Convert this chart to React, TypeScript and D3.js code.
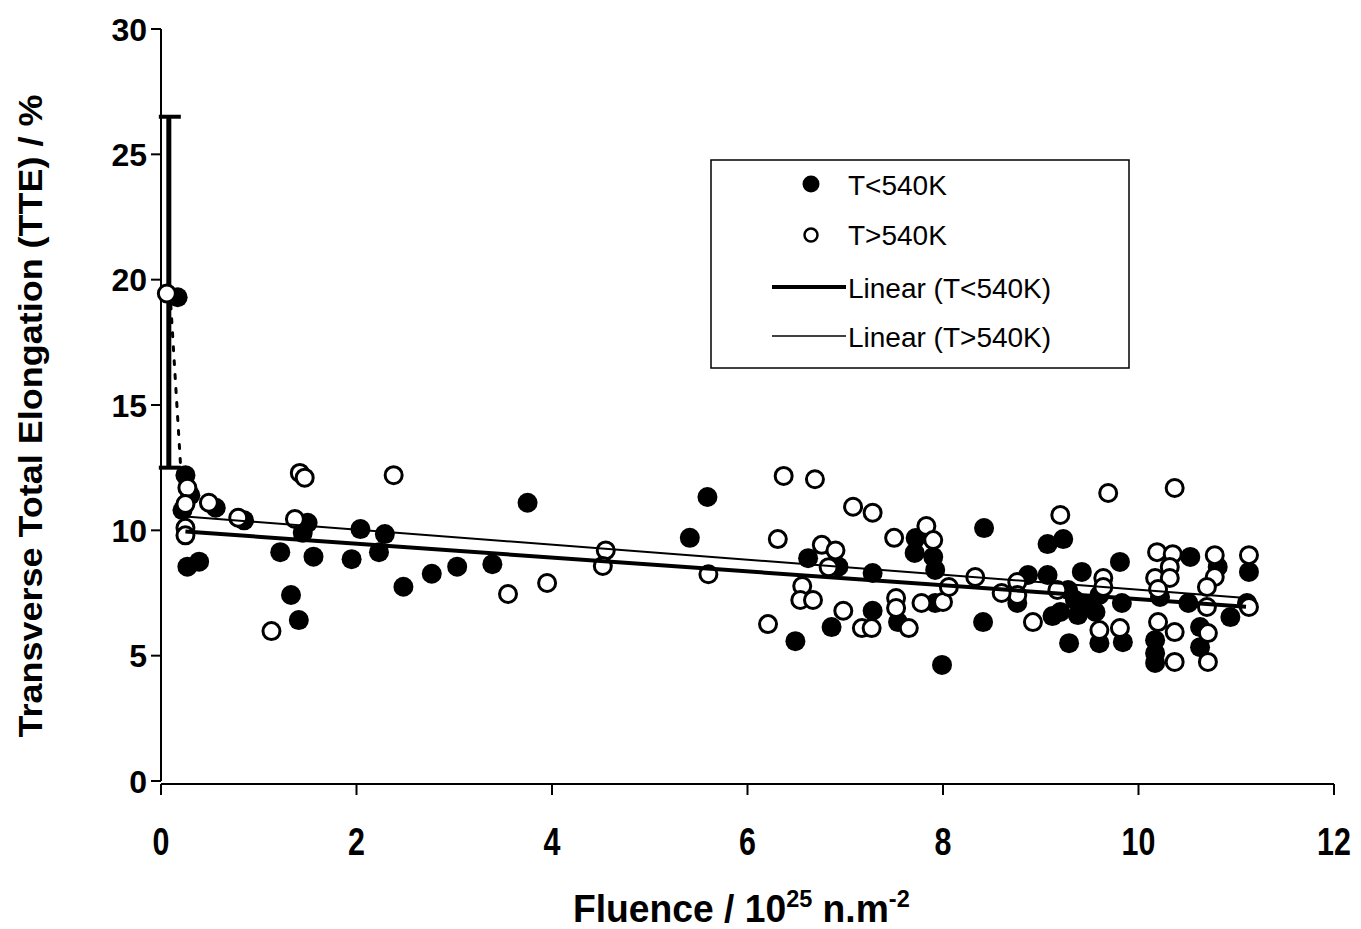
import React from "react";
import * as d3 from "d3";

// fluence (10^25 n/m2), TTE (%)
const lowTPoints: [number, number][] = [
  [0.17, 19.3], [0.25, 12.2], [0.3, 11.4], [0.22, 10.8], [0.56, 10.9], [0.85, 10.4], [0.27, 8.55], [0.39, 8.75],
  [1.5, 10.3], [1.45, 9.9], [2.04, 10.05], [2.29, 9.85], [2.23, 9.13], [1.22, 9.13], [1.56, 8.95], [1.95, 8.85],
  [3.39, 8.65], [3.03, 8.55], [2.77, 8.27], [2.48, 7.75], [1.33, 7.42], [1.41, 6.42], [3.75, 11.1],
  [5.59, 11.33], [5.41, 9.7], [6.62, 8.89], [6.93, 8.55], [7.28, 8.3], [7.28, 6.79], [6.86, 6.14], [6.49, 5.58],
  [7.99, 4.63], [7.54, 6.34], [7.92, 7.1], [7.72, 9.69], [7.71, 9.1], [7.9, 8.94], [7.92, 8.42],
  [8.42, 10.09], [9.07, 9.45], [9.23, 9.65], [9.81, 8.74], [9.42, 8.34], [8.87, 8.22], [9.07, 8.22], [8.76, 7.1],
  [9.28, 7.62], [9.35, 7.22], [9.45, 7.02], [9.56, 6.74], [9.2, 6.74], [9.38, 6.62], [9.6, 7.42], [9.12, 6.58],
  [9.83, 7.1], [9.6, 5.5], [9.84, 5.54], [9.29, 5.5], [8.41, 6.34],
  [10.53, 8.94], [10.22, 7.34], [10.51, 7.1], [10.17, 5.62], [10.17, 5.1], [10.17, 4.71], [10.81, 8.54],
  [10.63, 6.14], [10.63, 5.34], [10.94, 6.54], [11.13, 8.34], [11.11, 7.1],
];

const highTPoints: [number, number][] = [
  [0.06, 19.45], [0.27, 11.7], [0.25, 11.05], [0.49, 11.1], [0.79, 10.5], [0.25, 10.1], [0.25, 9.8],
  [1.42, 12.29], [1.47, 12.1], [2.38, 12.2], [1.37, 10.45], [1.13, 5.98], [3.55, 7.46], [3.95, 7.9],
  [4.55, 9.2], [4.52, 8.58], [5.6, 8.25], [6.37, 12.17], [6.69, 12.04], [7.08, 10.94], [7.28, 10.7],
  [6.31, 9.65], [7.5, 9.7], [6.76, 9.42], [6.9, 9.2], [6.83, 8.53], [6.56, 7.78], [6.54, 7.22], [6.67, 7.22],
  [6.98, 6.79], [7.17, 6.1], [7.27, 6.1], [6.21, 6.26], [7.52, 7.3], [7.52, 6.9], [7.65, 6.1], [7.78, 7.1],
  [8.0, 7.14], [7.83, 10.17], [7.9, 9.61], [8.06, 7.74],
  [9.69, 11.49], [10.37, 11.69], [9.2, 10.61], [8.33, 8.14], [9.64, 8.1], [9.64, 7.74], [8.76, 7.94],
  [8.76, 7.42], [8.6, 7.5], [8.92, 6.34], [9.6, 6.02], [9.81, 6.1], [9.17, 7.62],
  [10.19, 9.13], [10.35, 9.05], [10.32, 8.54], [10.17, 8.1], [10.32, 8.1], [10.2, 7.66], [10.2, 6.34],
  [10.37, 5.94], [10.37, 4.75], [10.78, 9.01], [10.78, 8.14], [10.7, 7.74], [10.7, 6.94], [10.71, 5.9],
  [10.71, 4.75], [11.13, 9.01], [11.13, 6.94],
];

// linear trend end points
const lowTTrend: [number, number][] = [[0.25, 9.95], [11.1, 6.95]];
const highTTrend: [number, number][] = [[0.25, 10.55], [11.1, 7.3]];

// error bars at zero fluence
const lowTErrorBar = { x: 0.08, lo: 12.5, hi: 26.5 };
const highTErrorBar: [number, number][] = [[0.1, 19.0], [0.2, 12.6]];

const xTicks = [0, 2, 4, 6, 8, 10, 12];
const yTicks = [0, 5, 10, 15, 20, 25, 30];

const FONT = "'Liberation Sans', Arial, sans-serif";

export default function App() {
  const x = d3.scaleLinear().domain([0, 12]).range([161, 1334]);
  const y = d3.scaleLinear().domain([0, 30]).range([781, 29]);
  const line = d3
    .line<[number, number]>()
    .x((d) => x(d[0]))
    .y((d) => y(d[1]));

  const x0 = x(0);
  const y0 = y(0);

  return (
    <svg
      width={1361}
      height={929}
      style={{ position: "absolute", left: 0, top: 0, background: "#fff" }}
    >
      {/* y axis */}
      <line x1={x0} x2={x0} y1={y(30)} y2={y0} stroke="#000" strokeWidth={2} />
      {yTicks.map((t) => (
        <g key={t}>
          <line x1={x0 - 10} x2={x0} y1={y(t)} y2={y(t)} stroke="#000" strokeWidth={2} />
          <text
            x={x0 - 14}
            y={y(t)}
            dy="0.36em"
            textAnchor="end"
            fontFamily={FONT}
            fontSize={32}
            fontWeight={700}
          >
            {t}
          </text>
        </g>
      ))}

      {/* x axis */}
      <line x1={x0} x2={x(12)} y1={y0 + 3} y2={y0 + 3} stroke="#000" strokeWidth={2} />
      {xTicks.map((t) => (
        <g key={t}>
          <line x1={x(t)} x2={x(t)} y1={y0 + 3} y2={y0 + 14} stroke="#000" strokeWidth={2} />
          <text
            transform={`translate(${x(t)}, ${y0 + 74}) scale(0.8, 1)`}
            textAnchor="middle"
            fontFamily={FONT}
            fontSize={38}
            fontWeight={700}
          >
            {t}
          </text>
        </g>
      ))}

      {/* axis titles */}
      <text
        transform={`translate(42, 416) rotate(-90)`}
        textAnchor="middle"
        fontFamily={FONT}
        fontSize={33}
        fontWeight={700}
        textLength={643}
        lengthAdjust="spacingAndGlyphs"
      >
        Transverse Total Elongation (TTE) / %
      </text>
      <text
        transform="translate(573, 922) scale(0.98, 1)"
        fontFamily={FONT}
        fontSize={38}
        fontWeight={700}
      >
        Fluence / 10
        <tspan dy={-15} fontSize={24}>25</tspan>
        <tspan dy={15}> n.m</tspan>
        <tspan dy={-15} fontSize={24}>-2</tspan>
      </text>

      {/* error bars */}
      <line
        x1={x(lowTErrorBar.x)}
        x2={x(lowTErrorBar.x)}
        y1={y(lowTErrorBar.lo)}
        y2={y(lowTErrorBar.hi)}
        stroke="#000"
        strokeWidth={5}
      />
      {[lowTErrorBar.lo, lowTErrorBar.hi].map((v) => (
        <line
          key={v}
          x1={x(lowTErrorBar.x) - 10}
          x2={x(lowTErrorBar.x) + 12}
          y1={y(v)}
          y2={y(v)}
          stroke="#000"
          strokeWidth={4}
        />
      ))}
      <path
        d={line(highTErrorBar) ?? ""}
        fill="none"
        stroke="#000"
        strokeWidth={3}
        strokeDasharray="4 10"
        strokeLinecap="round"
      />

      {/* T<540K filled */}
      {lowTPoints.map((d, i) => (
        <circle key={`l${i}`} cx={x(d[0])} cy={y(d[1])} r={10} fill="#000" />
      ))}
      {/* T>540K open */}
      {highTPoints.map((d, i) => (
        <circle
          key={`h${i}`}
          cx={x(d[0])}
          cy={y(d[1])}
          r={8.5}
          fill="#fff"
          stroke="#000"
          strokeWidth={3}
        />
      ))}

      {/* trend lines */}
      <path d={line(lowTTrend) ?? ""} fill="none" stroke="#000" strokeWidth={4} />
      <path d={line(highTTrend) ?? ""} fill="none" stroke="#000" strokeWidth={2} />

      {/* legend */}
      <g fontFamily={FONT} fontSize={28}>
        <rect x={711} y={160} width={418} height={208} fill="#fff" stroke="#000" strokeWidth={1.5} />
        <circle cx={811} cy={184} r={8.5} fill="#000" />
        <text x={848} y={195}>T&lt;540K</text>
        <circle cx={811} cy={235} r={6.5} fill="#fff" stroke="#000" strokeWidth={2.5} />
        <text x={848} y={245}>T&gt;540K</text>
        <line x1={772} x2={846} y1={287} y2={287} stroke="#000" strokeWidth={4} />
        <text x={848} y={298}>Linear (T&lt;540K)</text>
        <line x1={772} x2={846} y1={336} y2={336} stroke="#000" strokeWidth={1.5} />
        <text x={848} y={347}>Linear (T&gt;540K)</text>
      </g>
    </svg>
  );
}
